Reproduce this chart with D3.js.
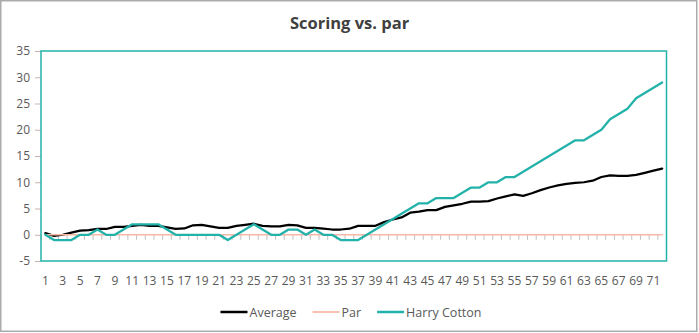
<!DOCTYPE html>
<html>
<head>
<meta charset="utf-8">
<script src="https://cdn.jsdelivr.net/npm/d3@7/dist/d3.min.js"></script>
<style>
  html, body { margin: 0; padding: 0; background: #fff; }
  svg { display: block; }
  text { font-family: "Open Sans", "Noto Sans", sans-serif; fill: #595959; }
</style>
</head>
<body>
<svg id="chart" width="699" height="333"></svg>
<script>
// Holes played, 1..72
const holes = d3.range(1, 73);

// Cumulative scoring relative to par
const average = [
  0.3, -0.2, 0.0, 0.4, 0.8, 0.9, 1.1, 1.1, 1.5, 1.5,
  1.7, 1.9, 1.7, 1.7, 1.4, 1.1, 1.2, 1.8, 1.9, 1.6,
  1.3, 1.3, 1.7, 1.9, 2.1, 1.7, 1.6, 1.6, 1.9, 1.8,
  1.3, 1.3, 1.15, 1.0, 1.0, 1.15, 1.7, 1.7, 1.7, 2.4,
  2.9, 3.3, 4.2, 4.4, 4.7, 4.7, 5.3, 5.6, 5.9, 6.3,
  6.3, 6.4, 6.9, 7.3, 7.7, 7.4, 7.9, 8.5, 9.0, 9.4,
  9.7, 9.9, 10.0, 10.3, 11.0, 11.3, 11.2, 11.2, 11.4, 11.8,
  12.2, 12.6
];
const par = holes.map(() => 0);
const harryCotton = [
  0, -1, -1, -1, 0, 0, 1, 0, 0, 1,
  2, 2, 2, 2, 1, 0, 0, 0, 0, 0,
  0, -1, 0, 1, 2, 1, 0, 0, 1, 1,
  0, 1, 0, 0, -1, -1, -1, 0, 1, 2,
  3, 4, 5, 6, 6, 7, 7, 7, 8, 9,
  9, 10, 10, 11, 11, 12, 13, 14, 15, 16,
  17, 18, 18, 19, 20, 22, 23, 24, 26, 27,
  28, 29
];

const yTicks = [-5, 0, 5, 10, 15, 20, 25, 30, 35];
const xLabelHoles = holes.filter(h => h % 2 === 1);

const seriesNames = ["Average", "Par", "Harry Cotton"];
const seriesColors = ["#000000", "#F7B7A6", "#22B2A9"];
const seriesWidths = [2.25, 1.5, 2.25];
const seriesValues = [average, par, harryCotton];

const svg = d3.select("#chart");
const plot = { left: 41, right: 666.5, top: 51, bottom: 261 };

// chart frame
svg.append("rect")
  .attr("x", 0.75).attr("y", 0.75)
  .attr("width", 696).attr("height", 330.5)
  .attr("fill", "#fff")
  .attr("stroke", "#ABABAB").attr("stroke-width", 1.5);

// title
svg.append("text")
  .attr("x", 349.5).attr("y", 29)
  .attr("text-anchor", "middle")
  .style("font-size", "16.5px").style("font-weight", "700")
  .style("fill", "#404040")
  .text("Scoring vs. par");

const x = d3.scaleBand().domain(holes).range([plot.left, plot.right]).padding(0);
const y = d3.scaleLinear().domain([-5, 35]).range([plot.bottom, plot.top]);
const cx = h => x(h) + x.bandwidth() / 2;

// vertical axis
const yAxis = svg.append("g")
  .attr("transform", `translate(${plot.left},0)`)
  .call(d3.axisLeft(y).tickValues(yTicks).tickSize(6).tickPadding(5).tickFormat(d => String(d)));
yAxis.select(".domain").remove();
yAxis.selectAll(".tick line").attr("stroke", "#C9B3AE").attr("stroke-width", 1);
yAxis.selectAll(".tick text").style("font-size", "12px").style("fill", "#595959").style("font-family", null);

// horizontal axis: tick marks between categories along the zero line
const boundaries = holes.map(h => x(h)).concat([plot.right]);
svg.append("g").selectAll("line")
  .data(boundaries)
  .join("line")
  .attr("x1", d => d).attr("x2", d => d)
  .attr("y1", y(0)).attr("y2", y(0) + 5)
  .attr("stroke", "#BFBFBF").attr("stroke-width", 1);

// category labels below the plot area
const xAxis = svg.append("g")
  .attr("transform", `translate(0,${plot.bottom})`)
  .call(d3.axisBottom(x).tickValues(xLabelHoles).tickSize(0).tickPadding(15));
xAxis.select(".domain").remove();
xAxis.selectAll(".tick text").style("font-size", "12px").style("fill", "#595959").style("font-family", null);

// series lines
const line = d3.line()
  .x((d, i) => cx(holes[i]))
  .y(d => y(d));

seriesValues.forEach((vals, s) => {
  svg.append("path")
    .datum(vals)
    .attr("fill", "none")
    .attr("stroke", seriesColors[s])
    .attr("stroke-width", seriesWidths[s])
    .attr("stroke-linejoin", "round")
    .attr("stroke-linecap", "round")
    .attr("d", line);
});

// plot area border
svg.append("rect")
  .attr("x", plot.left).attr("y", plot.top)
  .attr("width", plot.right - plot.left).attr("height", plot.bottom - plot.top)
  .attr("fill", "none")
  .attr("stroke", "#22B2A9").attr("stroke-width", 1.5);

// legend
const legend = svg.append("g");
const legendY = 312;
const items = [];
seriesNames.forEach((name, s) => {
  const g = legend.append("g");
  g.append("line")
    .attr("x1", 0).attr("x2", 27)
    .attr("y1", 0).attr("y2", 0)
    .attr("stroke", seriesColors[s]).attr("stroke-width", seriesWidths[s] + 0.25);
  const t = g.append("text")
    .attr("x", 29).attr("y", 4.5)
    .style("font-size", "12.5px")
    .text(name);
  const w = 29 + t.node().getComputedTextLength();
  items.push({ g, w });
});
const gap = 16;
const total = d3.sum(items, d => d.w) + gap * (items.length - 1);
let cursor = 351 - total / 2;
items.forEach(it => {
  it.g.attr("transform", `translate(${cursor},${legendY})`);
  cursor += it.w + gap;
});
</script>
</body>
</html>
